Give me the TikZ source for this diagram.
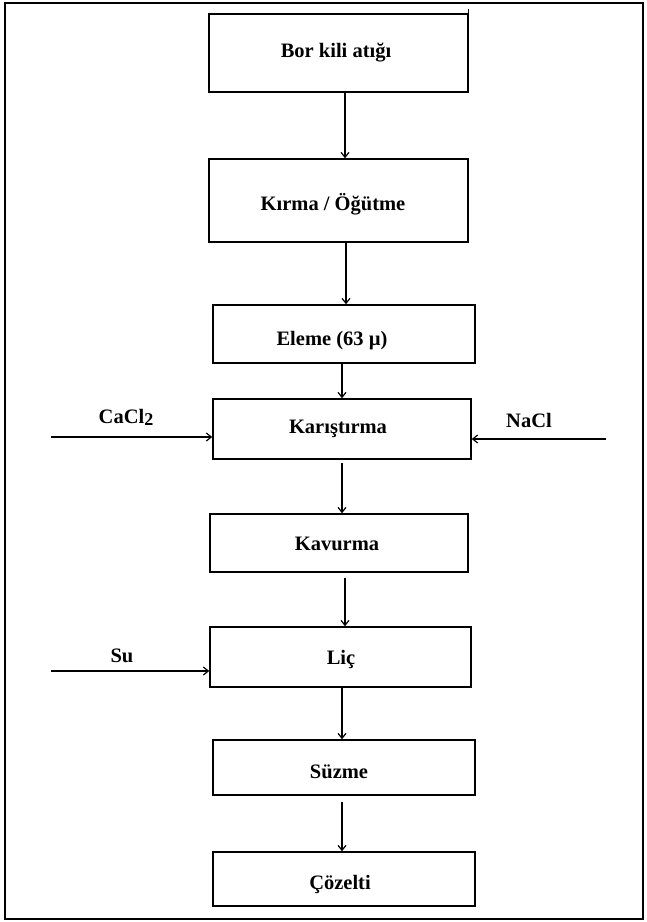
\documentclass[tikz,border=0pt]{standalone}
\usepackage{fontspec}
\setmainfont{Liberation Serif}
\usetikzlibrary{arrows.meta}
\begin{document}
\begin{tikzpicture}[x=1pt,y=-1pt,
  box/.style={draw=black,line width=1.5pt,inner sep=0pt},
  lbl/.style={font=\fontsize{20.5}{24}\selectfont\bfseries,inner sep=0pt,text=black},
  arr/.style={line width=1.3pt,-{Straight Barb[length=5pt,width=8pt,line width=1.2pt]}}]
\useasboundingbox (0,0) rectangle (646,922);
\draw[line width=2.6pt] (5,3) rectangle (643,919);
% boxes
\node[box,minimum width=259,minimum height=78] (b1) at (338.5,53) {};
\node[box,minimum width=259,minimum height=83] (b2) at (338.5,200.5) {};
\node[box,minimum width=262,minimum height=58] (b3) at (344,334) {};
\node[box,minimum width=258,minimum height=60] (b4) at (342,429) {};
\node[box,minimum width=258,minimum height=58] (b5) at (339,543) {};
\node[box,minimum width=261,minimum height=60] (b6) at (340.5,657) {};
\node[box,minimum width=262,minimum height=55] (b7) at (344,767.5) {};
\node[box,minimum width=262,minimum height=54] (b8) at (344,879) {};
% labels
\node[lbl] (t1) at (336,53) {Bor kili atığı};
\node[lbl] (t2) at (333,204) {Kırma / Öğütme};
\node[lbl] (t3) at (332,341) {Eleme (63 µ)};
\node[lbl] (t4) at (338,429) {Karıştırma};
\node[lbl] (t5) at (337,544) {Kavurma};
\node[lbl] (t6) at (341,659) {Liç};
\node[lbl] (t7) at (339,772) {Süzme};
\node[lbl] (t8) at (340,884) {Çözelti};
\node[lbl] (tc) at (126,417) {CaCl\raisebox{-2pt}{\fontsize{18}{20}\selectfont 2}};
\node[lbl] (tn) at (529,420) {NaCl};
\node[lbl] (ts) at (122,656) {Su};
% tick at top right of first box
\draw[line width=1.2pt] (b1.north east) -- ([yshift=4pt]b1.north east);
% vertical arrows
\draw[arr] ([xshift=6.5pt]b1.south) -- ([xshift=6.5pt]b2.north);
\draw[arr] ([xshift=7.5pt]b2.south) -- ([xshift=2pt]b3.north);
\draw[arr] ([xshift=-2pt]b3.south) -- (b4.north);
\draw[arr] ([yshift=-3pt]b4.south) -- ([xshift=3pt]b5.north);
\draw[arr] ([xshift=6pt,yshift=-5pt]b5.south) -- ([xshift=4.5pt]b6.north);
\draw[arr] ([xshift=1.5pt]b6.south) -- ([xshift=-2pt]b7.north);
\draw[arr] ([xshift=-2pt,yshift=-6pt]b7.south) -- ([xshift=-2pt]b8.north);
% side arrows
\coordinate (c1) at (51,437);
\coordinate (c2) at (606,439);
\coordinate (c3) at (51,671);
\draw[arr] (c1) -- (c1 -| b4.west);
\draw[arr] (c2) -- (c2 -| b4.east);
\draw[arr] (c3) -- (c3 -| b6.west);
\end{tikzpicture}
\end{document}
